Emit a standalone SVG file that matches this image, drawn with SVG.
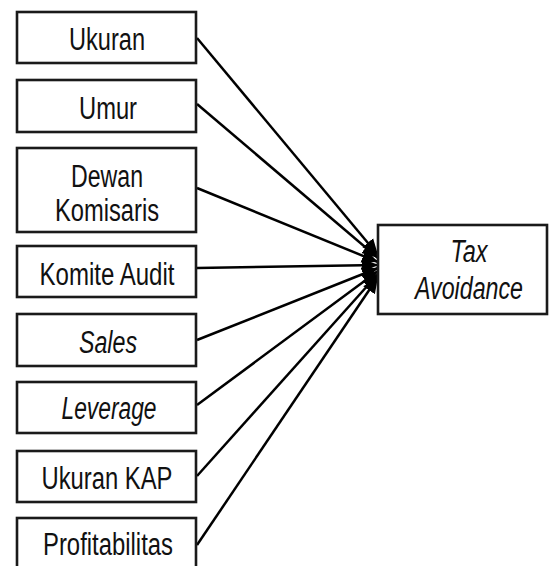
<svg xmlns="http://www.w3.org/2000/svg" width="550" height="566" viewBox="0 0 550 566">
<style>
.box{fill:#fff;stroke:#1a1a1a;stroke-width:2.6}
.t{font-family:"Liberation Sans Narrow","Liberation Sans",Arial,sans-serif;font-size:31px;fill:#111;text-anchor:middle}
.i{font-style:italic}
.c{stroke:#000;stroke-width:2.5;fill:none;marker-end:url(#ah)}
</style>
<defs>
<marker id="ah" viewBox="0 0 16 16" refX="16" refY="8" markerWidth="16" markerHeight="16" markerUnits="userSpaceOnUse" orient="auto">
<path d="M0,1 L16,8 L0,15 z" fill="#000"/>
</marker>
</defs>
<rect width="550" height="566" fill="#fff"/>
<g id="connectors">
<line class="c" x1="197" y1="38" x2="378" y2="255"/>
<line class="c" x1="197" y1="104" x2="378" y2="258"/>
<line class="c" x1="197" y1="188" x2="378" y2="262"/>
<line class="c" x1="197" y1="268" x2="378" y2="265"/>
<line class="c" x1="197" y1="340" x2="378" y2="268"/>
<line class="c" x1="197" y1="405" x2="378" y2="271"/>
<line class="c" x1="197" y1="476" x2="378" y2="274"/>
<line class="c" x1="197" y1="545" x2="378" y2="277"/>
</g>
<g id="ukuran">
<rect class="box" x="17" y="12" width="179" height="51"/>
<text class="t" x="107" y="50" textLength="76" lengthAdjust="spacingAndGlyphs">Ukuran</text>
</g>
<g id="umur">
<rect class="box" x="17" y="80" width="179" height="52"/>
<text class="t" x="108" y="119" textLength="58" lengthAdjust="spacingAndGlyphs">Umur</text>
</g>
<g id="dewan-komisaris">
<rect class="box" x="17" y="148" width="179" height="84"/>
<text class="t" x="107" y="187" textLength="72" lengthAdjust="spacingAndGlyphs">Dewan</text>
<text class="t" x="107" y="221" textLength="104" lengthAdjust="spacingAndGlyphs">Komisaris</text>
</g>
<g id="komite-audit">
<rect class="box" x="17" y="246" width="179" height="51"/>
<text class="t" x="107" y="285" textLength="135" lengthAdjust="spacingAndGlyphs">Komite Audit</text>
</g>
<g id="sales">
<rect class="box" x="17" y="314" width="179" height="52"/>
<text class="t i" x="108" y="353" textLength="58" lengthAdjust="spacingAndGlyphs">Sales</text>
</g>
<g id="leverage">
<rect class="box" x="17" y="382" width="179" height="51"/>
<text class="t i" x="109" y="419" textLength="95" lengthAdjust="spacingAndGlyphs">Leverage</text>
</g>
<g id="ukuran-kap">
<rect class="box" x="17" y="451" width="179" height="51"/>
<text class="t" x="107" y="489" textLength="131" lengthAdjust="spacingAndGlyphs">Ukuran KAP</text>
</g>
<g id="profitabilitas">
<rect class="box" x="17" y="518" width="179" height="52"/>
<text class="t" x="108" y="555" textLength="130" lengthAdjust="spacingAndGlyphs">Profitabilitas</text>
</g>
<g id="tax-avoidance">
<rect class="box" x="378" y="225" width="169" height="89"/>
<text class="t i" x="469" y="262" font-size="30" textLength="37" lengthAdjust="spacingAndGlyphs">Tax</text>
<text class="t i" x="469" y="299" font-size="30" textLength="108" lengthAdjust="spacingAndGlyphs">Avoidance</text>
</g>
</svg>
